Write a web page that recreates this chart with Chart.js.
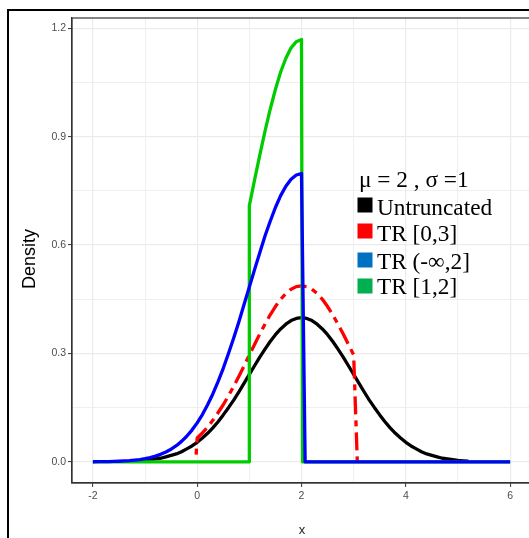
<!DOCTYPE html>
<html><head><meta charset="utf-8">
<script src="https://cdn.jsdelivr.net/npm/chart.js@4.4.1/dist/chart.umd.min.js"></script>
<style>
html,body{margin:0;padding:0;background:#fff;overflow:hidden;width:529px;height:538px}
#wrap{position:absolute;left:0;top:0;width:540px;height:538px}
canvas{display:block}
</style></head><body><div id="wrap"><canvas id="c" width="540" height="538" style="width:540px;height:538px"></canvas></div>
<script>
// ---- data ----
const untruncX = [-1.2,-1.1,-1.0,-0.9,-0.8,-0.7,-0.6,-0.5,-0.4,-0.3,-0.2,-0.1,0.0,0.1,0.2,0.3,0.4,0.5,0.6,0.7,0.8,0.9,1.0,1.1,1.2,1.3,1.4,1.5,1.6,1.7,1.8,1.9,2.0,2.1,2.2,2.3,2.4,2.5,2.6,2.7,2.8,2.9,3.0,3.1,3.2,3.3,3.4,3.5,3.6,3.7,3.8,3.9,4.0,4.1,4.2,4.3,4.4,4.5,4.6,4.7,4.8,4.9,5.0,5.1,5.2];
const untruncY = [0.002,0.003,0.004,0.006,0.008,0.010,0.014,0.018,0.022,0.028,0.036,0.044,0.054,0.066,0.079,0.094,0.111,0.130,0.150,0.171,0.194,0.218,0.242,0.266,0.290,0.312,0.333,0.352,0.368,0.381,0.391,0.397,0.399,0.397,0.391,0.381,0.368,0.352,0.333,0.312,0.290,0.266,0.242,0.218,0.194,0.171,0.150,0.130,0.111,0.094,0.079,0.066,0.054,0.044,0.036,0.028,0.022,0.018,0.014,0.010,0.008,0.006,0.004,0.003,0.002];

const tr03X = [-0.02,0.0,0.1,0.2,0.3,0.4,0.5,0.6,0.7,0.8,0.9,1.0,1.1,1.2,1.3,1.4,1.5,1.6,1.7,1.8,1.9,2.0,2.1,2.2,2.3,2.4,2.5,2.6,2.7,2.8,2.9,3.0,3.07];
const tr03Y = [0.02,0.066,0.080,0.096,0.115,0.136,0.158,0.183,0.209,0.237,0.266,0.296,0.325,0.354,0.381,0.407,0.430,0.450,0.466,0.478,0.485,0.487,0.485,0.478,0.466,0.450,0.430,0.407,0.381,0.354,0.325,0.296,0.0];

const trInf2X = [-2.0,-1.9,-1.8,-1.7,-1.6,-1.5,-1.4,-1.3,-1.2,-1.1,-1.0,-0.9,-0.8,-0.7,-0.6,-0.5,-0.4,-0.3,-0.2,-0.1,0.0,0.1,0.2,0.3,0.4,0.5,0.6,0.7,0.8,0.9,1.0,1.1,1.2,1.3,1.4,1.5,1.6,1.7,1.8,1.9,2.0,2.07,6.0];
const trInf2Y = [0.0003,0.0004,0.0006,0.0008,0.0012,0.0017,0.0025,0.0034,0.0048,0.0065,0.0089,0.0119,0.0158,0.0208,0.0272,0.0351,0.0448,0.0567,0.0709,0.0880,0.108,0.131,0.158,0.188,0.222,0.259,0.300,0.343,0.388,0.436,0.484,0.532,0.579,0.625,0.666,0.704,0.737,0.763,0.782,0.794,0.798,0.0,0.0];

const tr12X = [-2.0,1.0,1.0,1.1,1.2,1.3,1.4,1.5,1.6,1.7,1.8,1.9,2.0,2.02,6.0];
const tr12Y = [0.0,0.0,0.709,0.780,0.849,0.915,0.976,1.031,1.079,1.117,1.146,1.163,1.169,0.0,0.0];

const xMajorTicks = [-2,0,2,4,6];
const xMinorTicks = [-1,1,3,5];
const yMajorTicks = [0.0,0.3,0.6,0.9,1.2];
const yMinorTicks = [0.15,0.45,0.75,1.05];

const legendTitle = 'μ = 2 , σ =1';
const legendLabels = ['Untruncated','TR [0,3]','TR (-∞,2]','TR [1,2]'];
const legendColors = ['#000000','#FF0000','#0070C0','#00B050'];
const xTitle = 'x';
const yTitle = 'Density';

// ---- build ----
const pts = (xs, ys) => xs.map((x, i) => ({x: x, y: ys[i]}));
const isMajor = (list, v) => list.some(m => Math.abs(m - v) < 1e-9);

const common = {showLine:true, pointRadius:0, pointHoverRadius:0, borderWidth:3.3, fill:false, tension:0, borderJoinStyle:'round', borderCapStyle:'butt'};

const decor = {
  id:'decor',
  beforeDraw(chart){
    const c = chart.ctx; c.save(); c.fillStyle='#fff'; c.fillRect(0,0,chart.width,chart.height); c.restore();
  },
  afterDatasetsDraw(chart){
    const {ctx, chartArea:a} = chart;
    ctx.save(); ctx.strokeStyle='#333333'; ctx.lineWidth=1.2;
    ctx.strokeRect(a.left, a.top, a.right-a.left, a.bottom-a.top);
    ctx.restore();
  },
  afterDraw(chart){
    const ctx = chart.ctx;
    ctx.save();
    // axis titles
    ctx.fillStyle = '#000';
    ctx.font = '18px "Liberation Sans", Arial, sans-serif';
    ctx.textAlign = 'center'; ctx.textBaseline = 'alphabetic';
    ctx.save(); ctx.translate(35, 259); ctx.rotate(-Math.PI/2); ctx.fillText(yTitle, 0, 0); ctx.restore();
    ctx.fillStyle = '#222';
    ctx.font = '13px "Liberation Sans", Arial, sans-serif';
    ctx.fillText(xTitle, 302, 534);
    // legend
    ctx.textAlign = 'left';
    ctx.fillStyle = '#000';
    ctx.font = '23.3px "Liberation Serif", "Times New Roman", serif';
    ctx.fillText(legendTitle, 359, 187);
    const sqTop = [197.5, 223.5, 252.5, 278.5];
    const base = [215, 241, 268.5, 294];
    legendLabels.forEach((lab, i) => {
      ctx.fillStyle = legendColors[i];
      ctx.fillRect(357.5, sqTop[i], 15, 15);
      ctx.fillStyle = '#000';
      ctx.fillText(lab, 377, base[i]);
    });
    // outer frame
    ctx.strokeStyle = '#000'; ctx.lineWidth = 2;
    ctx.strokeRect(8, 10, 700, 700);
    ctx.restore();
  }
};

new Chart(document.getElementById('c'), {
  type:'scatter',
  data:{datasets:[
    Object.assign({label:legendLabels[2], data:pts(trInf2X, trInf2Y), borderColor:'#0000FF'}, common),
    Object.assign({label:legendLabels[3], data:pts(tr12X, tr12Y), borderColor:'#00CC00'}, common),
    Object.assign({label:legendLabels[1], data:pts(tr03X, tr03Y), borderColor:'#FF0000', borderDash:[6,6,18,6]}, common),
    Object.assign({label:legendLabels[0], data:pts(untruncX, untruncY), borderColor:'#000000'}, common)
  ]},
  options:{
    responsive:false, animation:false, devicePixelRatio:1,
    layout:{padding:{top:18, right:9, left:0, bottom:0}},
    plugins:{legend:{display:false}, tooltip:{enabled:false}, title:{display:false}},
    scales:{
      x:{
        type:'linear', min:-2.4, max:6.4,
        afterBuildTicks: s => { s.ticks = xMajorTicks.concat(xMinorTicks).sort((a,b)=>a-b).map(v=>({value:v})); },
        afterFit: s => { s.height = 55; },
        ticks:{autoSkip:false, maxRotation:0, padding:3, color:'#4D4D4D', font:{family:'"Liberation Sans", Arial, sans-serif', size:10.5},
          callback: v => isMajor(xMajorTicks, v) ? String(v) : ''},
        grid:{color:'#EBEBEB', lineWidth: c => (c.tick && isMajor(xMajorTicks, c.tick.value)) ? 1.2 : 0.8,
          tickColor: c => (c.tick && isMajor(xMajorTicks, c.tick.value)) ? '#333333' : 'rgba(0,0,0,0)', tickLength:4, tickWidth:1},
        border:{display:true, color:'#333333', width:1.2}
      },
      y:{
        type:'linear', min:-0.0585, max:1.2285,
        afterBuildTicks: s => { s.ticks = yMajorTicks.concat(yMinorTicks).sort((a,b)=>a-b).map(v=>({value:v})); },
        afterFit: s => { s.width = 72; },
        ticks:{autoSkip:false, padding:2, color:'#4D4D4D', font:{family:'"Liberation Sans", Arial, sans-serif', size:10.5},
          callback: v => isMajor(yMajorTicks, v) ? v.toFixed(1) : ''},
        grid:{color:'#EBEBEB', lineWidth: c => (c.tick && isMajor(yMajorTicks, c.tick.value)) ? 1.2 : 0.8,
          tickColor: c => (c.tick && isMajor(yMajorTicks, c.tick.value)) ? '#333333' : 'rgba(0,0,0,0)', tickLength:4, tickWidth:1},
        border:{display:true, color:'#333333', width:1.2}
      }
    }
  },
  plugins:[decor]
});
</script></body></html>
